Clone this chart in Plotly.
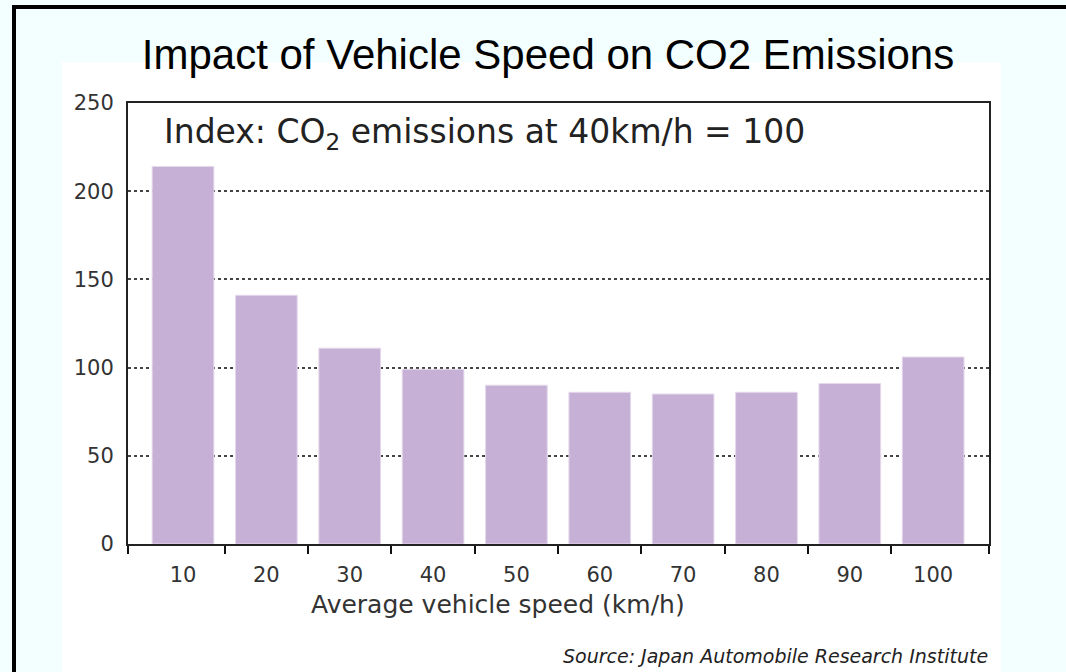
import plotly.graph_objects as go

speeds = [10, 20, 30, 40, 50, 60, 70, 80, 90, 100]
co2_index = [214, 141, 111, 99, 90, 86, 85, 86, 91, 106]
speed_labels = ["10", "20", "30", "40", "50", "60", "70", "80", "90", "100"]
boundary_ticks = [3.45, 15, 25, 35, 45, 55, 65, 75, 85, 95, 106.65]
y_ticks = [0, 50, 100, 150, 200, 250]

W, H = 1066, 672
L, R, T, B = 128, 989, 103, 544


def px_x(p):
    return (p - L) / (R - L)


def px_y(p):
    return (B - p) / (B - T)


fig = go.Figure()
fig.add_trace(go.Bar(
    x=speeds, y=co2_index,
    marker=dict(color="#C7B0D5", line=dict(color="#E4D8EC", width=1)),
    hoverinfo="x+y",
))

fig.update_layout(
    width=W, height=H,
    margin=dict(l=L, r=W - R, t=T, b=H - B),
    paper_bgcolor="#F3FEFE",
    plot_bgcolor="white",
    bargap=0.26,
    showlegend=False,
    title=dict(
        text="Impact of Vehicle Speed on CO2 Emissions",
        x=548 / W, xanchor="center", xref="container",
        y=1 - 54 / H, yanchor="middle",
        font=dict(family="Liberation Sans, Arial", size=42, color="black"),
    ),
    xaxis=dict(
        range=[3.4, 106.7], autorange=False,
        tickmode="array", tickvals=speeds, ticktext=speed_labels,
        ticks="", ticklabelstandoff=11,
        tickfont=dict(family="DejaVu Sans", size=21, color="#333"),
        showgrid=False, zeroline=False,
        showline=True, linecolor="#222", linewidth=2, mirror=True,
        minor=dict(tickmode="array", tickvals=boundary_ticks, ticks="outside",
                   ticklen=8, tickwidth=2, tickcolor="#111", showgrid=False),
    ),
    yaxis=dict(
        range=[0, 250], autorange=False,
        tickmode="array", tickvals=y_ticks,
        ticks="", ticklabelstandoff=8,
        tickfont=dict(family="DejaVu Sans", size=21, color="#333"),
        showgrid=True, gridcolor="#444", griddash="dot", gridwidth=1.5,
        zeroline=False,
        showline=True, linecolor="#222", linewidth=2, mirror=True,
    ),
    shapes=[
        dict(type="rect", xref="paper", yref="paper", layer="below",
             x0=px_x(62), x1=px_x(1001), y0=px_y(672), y1=px_y(62),
             fillcolor="white", line=dict(width=0)),
        dict(type="line", xref="paper", yref="paper",
             x0=px_x(14), x1=px_x(1066), y0=px_y(7), y1=px_y(7),
             line=dict(color="black", width=4)),
        dict(type="line", xref="paper", yref="paper",
             x0=px_x(14), x1=px_x(14), y0=px_y(5), y1=px_y(672),
             line=dict(color="black", width=4)),
    ],
    annotations=[
        dict(text="Index: CO<sub>2</sub> emissions at 40km/h = 100",
             xref="paper", yref="paper", x=px_x(162), y=px_y(133),
             xanchor="left", yanchor="middle", showarrow=False,
             font=dict(family="DejaVu Sans", size=33, color="#222")),
        dict(text="Average vehicle speed (km/h)",
             xref="paper", yref="paper", x=px_x(498), y=px_y(604),
             xanchor="center", yanchor="middle", showarrow=False,
             font=dict(family="DejaVu Sans", size=25, color="#333")),
        dict(text="<i>Source: Japan Automobile Research Institute</i>",
             xref="paper", yref="paper", x=px_x(990), y=px_y(656),
             xanchor="right", yanchor="middle", showarrow=False,
             font=dict(family="DejaVu Sans", size=19, color="#222")),
    ],
)

fig.write_html("out.html", config={"displayModeBar": False})

with open("out.html", "r", encoding="utf-8") as f:
    html = f.read()
html = html.replace(
    "<head>",
    "<head><style>html,body{margin:0;padding:0;overflow:hidden;}</style>",
    1,
)
with open("out.html", "w", encoding="utf-8") as f:
    f.write(html)
